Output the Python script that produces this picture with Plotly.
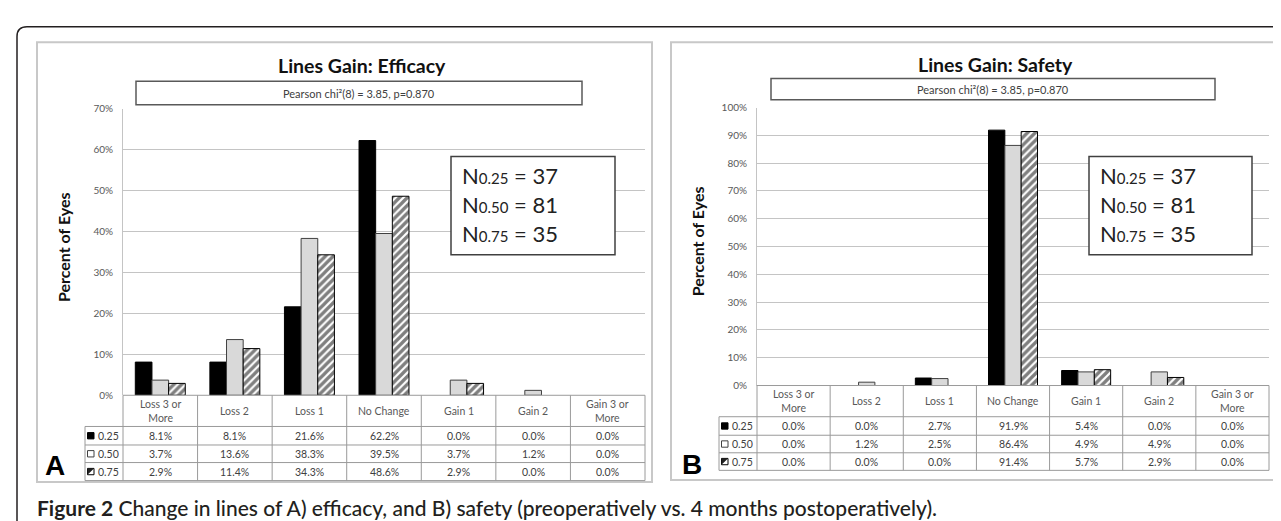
import plotly.graph_objects as go

# ---------------- data ----------------
categories = ["Loss 3 or More", "Loss 2", "Loss 1", "No Change", "Gain 1", "Gain 2", "Gain 3 or More"]
category_labels = ["Loss 3 or<br>More", "Loss 2", "Loss 1", "No Change", "Gain 1", "Gain 2", "Gain 3 or<br>More"]
groups = ["0.25", "0.50", "0.75"]

efficacy_025 = [8.1, 8.1, 21.6, 62.2, 0.0, 0.0, 0.0]
efficacy_050 = [3.7, 13.6, 38.3, 39.5, 3.7, 1.2, 0.0]
efficacy_075 = [2.9, 11.4, 34.3, 48.6, 2.9, 0.0, 0.0]

safety_025 = [0.0, 0.0, 2.7, 91.9, 5.4, 0.0, 0.0]
safety_050 = [0.0, 1.2, 2.5, 86.4, 4.9, 4.9, 0.0]
safety_075 = [0.0, 0.0, 0.0, 91.4, 5.7, 2.9, 0.0]

efficacy_ticks = [0, 10, 20, 30, 40, 50, 60, 70]
safety_ticks = [0, 10, 20, 30, 40, 50, 60, 70, 80, 90, 100]

n_groups = ["0.25", "0.50", "0.75"]
n_counts = [37, 81, 35]

chi_text = "Pearson chi²(8) = 3.85, p=0.870"
titles = ["Lines Gain: Efficacy", "Lines Gain: Safety"]
caption_bold = "Figure 2"
caption_rest = " Change in lines of A) efficacy, and B) safety (preoperatively vs. 4 months postoperatively)."

# ---------------- layout helpers ----------------
W, H = 1281, 521
def px(x):
    return x / W
def py(y):
    return 1 - y / H

FONT = "Lato"
GRID = "#c4c4c4"
TABLE = "#9a9a9a"

panels = [
    dict(series=[efficacy_025, efficacy_050, efficacy_075], ticks=efficacy_ticks, ymax=70,
         xa="x", ya="y", box=(29, 28, 644, 479), plot=(115, 96, 637, 390),
         rows=(422, 441, 459, 477.5), legend_left=77, title=(354, 52),
         pearson=(128, 68, 574, 92), nbox=(443, 145, 607, 246), ntext_x=452,
         ytitle=(55, 238), letter="A", letter_pos=(47, 462)),
    dict(series=[safety_025, safety_050, safety_075], ticks=safety_ticks, ymax=100,
         xa="x2", ya="y2", box=(663, 28, 1275, 477), plot=(749, 95, 1261, 380),
         rows=(412, 431, 449, 467), legend_left=711, title=(987, 51),
         pearson=(763, 65, 1207, 87), nbox=(1081, 145, 1244, 246), ntext_x=1090,
         ytitle=(689, 232), letter="B", letter_pos=(684, 461)),
]

bar_styles = [
    dict(color="#000000", line=dict(color="#000000", width=1)),
    dict(color="#d9d9d9", line=dict(color="#404040", width=1)),
    dict(color="#ffffff", line=dict(color="#000000", width=1),
         pattern=dict(shape="/", fgcolor="#000000", bgcolor="#ffffff", size=5.5, solidity=0.6)),
]

fig = go.Figure()
shapes = []
annotations = []

for pi, p in enumerate(panels):
    x0, y0, x1, y1 = p["plot"]
    for g, vals, st in zip(groups, p["series"], bar_styles):
        shown = [v if v > 0 else None for v in vals]
        fig.add_trace(go.Bar(x=categories, y=shown, name=g, xaxis=p["xa"], yaxis=p["ya"],
                             marker=st, showlegend=False, hoverinfo="skip"))

    n = len(categories)
    cw = (x1 - x0) / n
    def cx(i, x0=x0, cw=cw):
        return x0 + cw * i

    # panel frame
    bx0, by0, bx1, by1 = p["box"]
    shapes.append(dict(type="rect", xref="paper", yref="paper", x0=px(bx0), x1=px(bx1),
                       y0=py(by1), y1=py(by0), line=dict(color="#c8c8c8", width=2), layer="below"))

    # table lines
    hdr_top = y1
    rows = p["rows"]
    lx = p["legend_left"]
    shapes.append(dict(type="line", xref="paper", yref="paper", x0=px(x0), x1=px(x1),
                       y0=py(hdr_top), y1=py(hdr_top), line=dict(color=TABLE, width=1)))
    for yy in rows:
        shapes.append(dict(type="line", xref="paper", yref="paper", x0=px(lx), x1=px(x1),
                           y0=py(yy), y1=py(yy), line=dict(color=TABLE, width=1)))
    for i in range(n + 1):
        shapes.append(dict(type="line", xref="paper", yref="paper", x0=px(cx(i)), x1=px(cx(i)),
                           y0=py(hdr_top), y1=py(rows[-1]), line=dict(color=TABLE, width=1)))
    shapes.append(dict(type="line", xref="paper", yref="paper", x0=px(lx), x1=px(lx),
                       y0=py(rows[0]), y1=py(rows[-1]), line=dict(color=TABLE, width=1)))

    # header labels
    for c, lab in zip(categories, category_labels):
        annotations.append(dict(xref=p["xa"], yref="paper", x=c, y=py((hdr_top + rows[0]) / 2),
                                text=lab, showarrow=False, font=dict(family=FONT, size=10.5, color="#595959"),
                                xanchor="center", yanchor="middle"))
    # values
    for r, (g, vals) in enumerate(zip(groups, p["series"])):
        yc = (rows[r] + rows[r + 1]) / 2
        for c, v in zip(categories, vals):
            annotations.append(dict(xref=p["xa"], yref="paper", x=c, y=py(yc), text=f"{v:.1f}%",
                                    showarrow=False, font=dict(family=FONT, size=10.5, color="#404040"),
                                    xanchor="center", yanchor="middle"))
        # legend key + label
        kx = lx + 2.5
        ks = 6.5
        if r == 0:
            shapes.append(dict(type="rect", xref="paper", yref="paper", x0=px(kx), x1=px(kx + ks),
                               y0=py(yc + ks / 2), y1=py(yc - ks / 2), fillcolor="#000000",
                               line=dict(color="#000000", width=1)))
        elif r == 1:
            shapes.append(dict(type="rect", xref="paper", yref="paper", x0=px(kx), x1=px(kx + ks),
                               y0=py(yc + ks / 2), y1=py(yc - ks / 2), fillcolor="#ffffff",
                               line=dict(color="#404040", width=1)))
        else:
            shapes.append(dict(type="rect", xref="paper", yref="paper", x0=px(kx), x1=px(kx + ks),
                               y0=py(yc + ks / 2), y1=py(yc - ks / 2), fillcolor="#ffffff",
                               line=dict(color="#000000", width=1)))
            path = (f"M {px(kx)},{py(yc + ks / 2)} L {px(kx)},{py(yc - ks / 2)} "
                    f"L {px(kx + ks)},{py(yc - ks / 2)} Z")
            shapes.append(dict(type="path", xref="paper", yref="paper", path=path,
                               fillcolor="#222222", line=dict(width=0)))
        annotations.append(dict(xref="paper", yref="paper", x=px(kx + ks + 1.5), y=py(yc), text=g,
                                showarrow=False, font=dict(family=FONT, size=10.5, color="#404040"),
                                xanchor="left", yanchor="middle"))

    # title
    tx, ty = p["title"]
    annotations.append(dict(xref="paper", yref="paper", x=px(tx), y=py(ty), text=f"<b>{titles[pi]}</b>",
                            showarrow=False, font=dict(family=FONT, size=19.5, color="#111111"),
                            xanchor="center", yanchor="middle"))
    # pearson box
    qx0, qy0, qx1, qy1 = p["pearson"]
    shapes.append(dict(type="rect", xref="paper", yref="paper", x0=px(qx0), x1=px(qx1),
                       y0=py(qy1), y1=py(qy0), fillcolor="#ffffff", line=dict(color="#595959", width=1.5)))
    annotations.append(dict(xref="paper", yref="paper", x=px((qx0 + qx1) / 2), y=py((qy0 + qy1) / 2),
                            text=chi_text, showarrow=False, font=dict(family=FONT, size=11, color="#404040"),
                            xanchor="center", yanchor="middle"))
    # N box
    nx0, ny0, nx1, ny1 = p["nbox"]
    shapes.append(dict(type="rect", xref="paper", yref="paper", x0=px(nx0), x1=px(nx1),
                       y0=py(ny1), y1=py(ny0), fillcolor="#ffffff", line=dict(color="#404040", width=1.5),
                       layer="above"))
    for k, (g, cnt) in enumerate(zip(n_groups, n_counts)):
        yc = ny0 + 20 + 29.5 * k
        annotations.append(dict(xref="paper", yref="paper", x=px(p["ntext_x"]), y=py(yc),
                                text=f"N<span style='font-size:15px'>{g}</span> = {cnt}",
                                showarrow=False, font=dict(family=FONT, size=22, color="#222222"),
                                xanchor="left", yanchor="middle"))
    # y title
    ax_, ay_ = p["ytitle"]
    annotations.append(dict(xref="paper", yref="paper", x=px(ax_), y=py(ay_), text="<b>Percent of Eyes</b>",
                            textangle=-90, showarrow=False, font=dict(family=FONT, size=16, color="#111111"),
                            xanchor="center", yanchor="middle"))
    # letter
    lx_, ly_ = p["letter_pos"]
    annotations.append(dict(xref="paper", yref="paper", x=px(lx_), y=py(ly_), text=f"<b>{p['letter']}</b>",
                            showarrow=False, font=dict(family="Liberation Sans", size=28, color="#000000"),
                            xanchor="center", yanchor="middle"))

# outer frame (top-left rounded corner)
r = 10
frame = (f"M {px(9)},{py(521)} L {px(9)},{py(12 + r)} Q {px(9)},{py(12)} {px(9 + r)},{py(12)} "
         f"L {px(1281)},{py(12)}")
shapes.append(dict(type="path", xref="paper", yref="paper", path=frame,
                   line=dict(color="#231f20", width=1.5)))

# caption
annotations.append(dict(xref="paper", yref="paper", x=px(27), y=py(505),
                        text=f"<b>{caption_bold}</b>{caption_rest}", showarrow=False,
                        font=dict(family=FONT, size=21, color="#231f20", weight=500),
                        xanchor="left", yanchor="middle"))

def yaxis_cfg(p):
    x0, y0, x1, y1 = p["plot"]
    return dict(domain=[py(y1), py(y0)], range=[0, p["ymax"]], tickvals=p["ticks"],
                ticktext=[f"{t}%" for t in p["ticks"]], showgrid=True, gridcolor=GRID, gridwidth=1,
                zeroline=False, showline=True, linecolor=GRID, linewidth=1,
                ticks="outside", ticklen=7, tickcolor="rgba(0,0,0,0)",
                tickfont=dict(family=FONT, size=10, color="#595959"), fixedrange=True)

def xaxis_cfg(p, anchor):
    x0, y0, x1, y1 = p["plot"]
    return dict(domain=[px(x0), px(x1)], anchor=anchor, type="category", categoryorder="array",
                categoryarray=categories, showticklabels=False, showgrid=False, zeroline=False,
                showline=False, ticks="", fixedrange=True)

fig.update_layout(
    width=W, height=H, margin=dict(l=0, r=0, t=0, b=0),
    paper_bgcolor="#ffffff", plot_bgcolor="rgba(0,0,0,0)",
    barmode="group", bargap=0.33, bargroupgap=0,
    xaxis=xaxis_cfg(panels[0], "y"), yaxis=dict(yaxis_cfg(panels[0]), anchor="x"),
    xaxis2=xaxis_cfg(panels[1], "y2"), yaxis2=dict(yaxis_cfg(panels[1]), anchor="x2"),
    shapes=shapes, annotations=annotations, showlegend=False,
)

fig.write_html("out.html")
